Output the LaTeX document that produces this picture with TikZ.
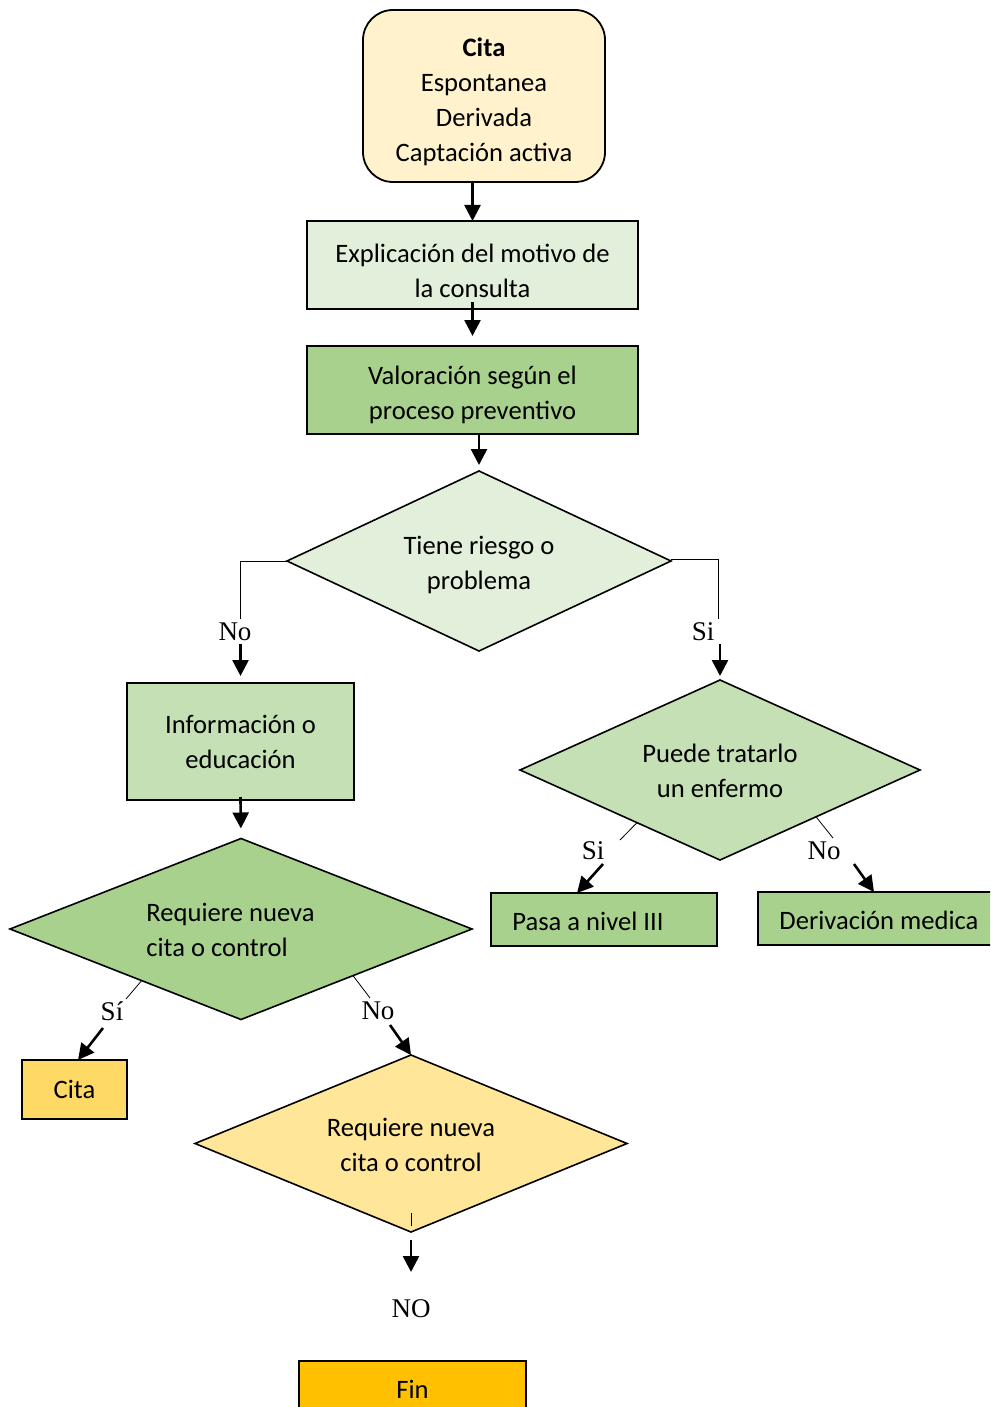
\documentclass[tikz,border=0pt]{standalone}
\usepackage{fontspec}
\setmainfont{Carlito}
\newfontfamily\lblfont{Liberation Serif}
\usetikzlibrary{shapes.geometric,arrows.meta,calc}

\definecolor{cream}{HTML}{FFF2CC}
\definecolor{palegreen}{HTML}{E2EFDA}
\definecolor{midgreen}{HTML}{A9D18E}
\definecolor{softgreen}{HTML}{C5E0B4}
\definecolor{goldfill}{HTML}{FFD966}
\definecolor{paleyellow}{HTML}{FFE699}
\definecolor{amber}{HTML}{FFC000}

\begin{document}
\begin{tikzpicture}[x=0.5pt,y=-0.5pt,
  txt/.style={font=\fontsize{13.3}{17.5}\selectfont},
  box/.style={draw=black, line width=0.9pt, inner sep=0pt, outer sep=0pt, align=center, txt},
  dia/.style={diamond, draw=black, line width=0.8pt, inner sep=0pt, outer sep=0pt},
  lbl/.style={font=\lblfont\fontsize{13.5}{16}\selectfont, inner sep=0pt},
  link/.style={draw=black, line width=0.5pt},
  tick/.style={draw=black, line width=0.4pt},
  arr/.style={draw=black, line width=1.3pt, -{Triangle[width=8pt,length=8pt]}},
]
\useasboundingbox (0,0) rectangle (990,1407);
\clip (0,0) rectangle (990,1407);

% boxes of the main column
\node[box, fill=cream, rounded corners=15pt, minimum width=121pt, minimum height=86pt]
  (start) at (484,96) {};
\node[txt, align=center] (startt) at (484,102) {\textbf{Cita}\\Espontanea\\Derivada\\Captación activa};
\node[box, fill=palegreen, minimum width=165.5pt, minimum height=44pt] (b2) at (472.5,265) {};
\node[txt, align=center] (b2t) at (472.5,270.5) {Explicación del motivo de\\la consulta};
\node[box, fill=midgreen, minimum width=165.5pt, minimum height=44pt] (b3) at (472.5,390) {};
\node[txt, align=center] (b3t) at (472.5,394.5) {Valoración según el\\proceso preventivo};

% first decision
\node[dia, fill=palegreen, minimum width=192pt, minimum height=90pt] (d1) at (479,561) {};
\node[txt, align=center] (d1t) at (479,564.5) {Tiene riesgo o\\problema};

% left branch
\node[box, fill=softgreen, minimum width=113.5pt, minimum height=58.5pt]
  (info) at (240.5,741.5) {Información o\\educación};
\node[dia, fill=midgreen, minimum width=231pt, minimum height=90.5pt] (d3) at (241,929) {};
\node[txt, align=left, anchor=west, inner sep=0pt] (d3t) at (146,929.5) {Requiere nueva\\cita o control};
\node[box, fill=goldfill, minimum width=52.5pt, minimum height=29.5pt] (cita) at (74.5,1089.5) {Cita};
\node[dia, fill=paleyellow, minimum width=216pt, minimum height=88.5pt] (d4) at (411,1143.5) {};
\node[txt, align=center] (d4t) at (411,1145) {Requiere nueva\\cita o control};
\node[box, fill=amber, minimum width=113.5pt, minimum height=28pt] (fin) at (412.5,1389) {Fin};

% right branch
\node[dia, fill=softgreen, minimum width=200pt, minimum height=90pt] (d2) at (720,770) {};
\node[txt, align=center] (d2t) at (720,770.5) {Puede tratarlo\\un enfermo};
\node[box, fill=midgreen, minimum width=113pt, minimum height=26.5pt] (p3) at (604,919.5) {};
\node[txt, anchor=west, inner sep=0pt] (p3t) at (512,921) {Pasa a nivel III};
\node[box, fill=midgreen, minimum width=125pt, minimum height=26.5pt] (dm) at (883,918.5) {};
\node[txt, anchor=west, inner sep=0pt] (dmt) at (779,920) {Derivación medica};

% main column arrows
\draw[arr] (start.south -| b2.north) -- (b2.north);
\draw[arr, shorten <=-3.5pt, shorten >=5pt] (b2.south) -- (b3.north);
\draw[arr, shorten >=3pt] (b3.south -| d1.north) -- (d1.north);

% branches of the first decision
\node[lbl] (noL) at (235,632) {No};
\node[lbl] (siR) at (703,632) {Si};
\draw[link] (d1.west) -| ([yshift=2pt]noL.north -| info.north);
\draw[arr, shorten <=1.5pt, shorten >=3.5pt] (noL.south -| info.north) -- (info.north);
\draw[link] ($(d1.east)+(0,-2)$) -| ([yshift=2pt]siR.north -| 718,0);
\draw[arr, shorten <=1.5pt, shorten >=2pt] (siR.south -| d2.north) -- (d2.north);

\draw[arr, shorten <=-1.5pt, shorten >=5pt] (info.south) -- (d3.north);

% branches of the second decision
\coordinate (t2a) at ($(d2.west)!0.585!(d2.south)$);
\coordinate (t2b) at (620,840);
\draw[tick] (t2a) -- (t2b);
\node[lbl] (siL2) at (593,851) {Si};
\coordinate (a2a) at (603,864);
\draw[arr] (a2a) -- ($(p3.north west)+(86,0)$);

\coordinate (t3a) at ($(d2.east)!0.52!(d2.south)$);
\coordinate (t3b) at (833,838);
\draw[tick] (t3a) -- (t3b);
\node[lbl] (noR2) at (824,851) {No};
\coordinate (a3a) at (854,864);
\draw[arr] (a3a) -- ($(dm.north west)+(116,0)$);

% branches of the third decision
\coordinate (t4a) at ($(d3.west)!0.57!(d3.south)$);
\coordinate (t4b) at (126,999);
\draw[tick] (t4a) -- (t4b);
\node[lbl] (siL3) at (112,1011) {Sí};
\coordinate (a4a) at (103,1028);
\draw[arr] (a4a) -- ($(cita.north west)+(56,0)$);

\coordinate (t5a) at ($(d3.east)!0.515!(d3.south)$);
\coordinate (t5b) at (370,998);
\draw[tick] (t5a) -- (t5b);
\node[lbl] (noR3) at (378,1011) {No};
\coordinate (a5a) at (390,1025);
\draw[arr] (a5a) -- (d4.north);

% exit of the last decision
\draw[tick] ($(d4.south)+(0,-19)$) -- ($(d4.south)+(0,-6)$);
\coordinate (a6a) at ($(d4.south)+(0,8)$);
\coordinate (a6b) at ($(d4.south)+(0,40)$);
\draw[arr] (a6a) -- (a6b);
\node[lbl] (nolbl) at (411,1309) {NO};
\end{tikzpicture}
\end{document}
